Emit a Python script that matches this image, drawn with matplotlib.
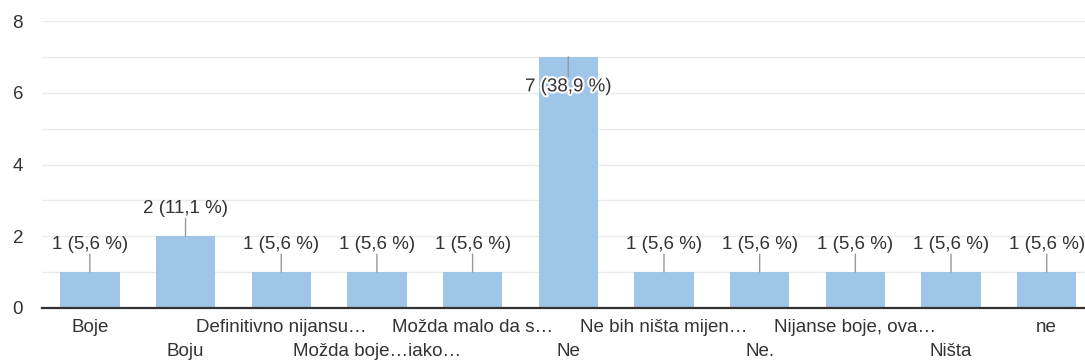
import matplotlib.pyplot as plt
import matplotlib.patheffects as pe

categories = ["Boje", "Boju", "Definitivno nijansu…", "Možda boje…iako…",
              "Možda malo da s…", "Ne", "Ne bih ništa mijen…", "Ne.",
              "Nijanse boje, ova…", "Ništa", "ne"]
counts = [1, 2, 1, 1, 1, 7, 1, 1, 1, 1, 1]
percent_labels = ["5,6", "11,1", "5,6", "5,6", "5,6", "38,9", "5,6", "5,6",
                  "5,6", "5,6", "5,6"]
y_ticks = [0, 2, 4, 6, 8]

plt.rcParams['font.family'] = ['Liberation Sans', 'DejaVu Sans']

W, H = 1085, 363
DPI = 100
PX = 72 / DPI  # points per pixel
FS = 13.5

fig = plt.figure(figsize=(W / DPI, H / DPI), dpi=DPI)
ax = fig.add_axes([42 / W, 55 / H, (W - 42) / W, 287 / H])

bar_color = "#9fc5e8"
text_color = "#333333"
x = list(range(len(categories)))
ax.bar(x, counts, width=0.62, color=bar_color, zorder=2)

ax.set_xlim(-0.5, 10.4)
ax.set_ylim(0, 8)
ax.set_yticks(y_ticks)
ax.set_yticks(range(0, 9), minor=True)
ax.grid(axis='y', which='both', color="#ebebeb", linewidth=1, zorder=0)
ax.tick_params(axis='y', which='both', length=0, pad=19 * PX, labelsize=FS,
               labelcolor=text_color)
ax.tick_params(axis='x', length=0)
ax.set_xticks([])
for s in ['top', 'right', 'left']:
    ax.spines[s].set_visible(False)
ax.spines['bottom'].set_color("#333333")
ax.spines['bottom'].set_linewidth(1.6)
ax.spines['bottom'].set_zorder(3)

# staggered category labels
for i, name in enumerate(categories):
    off = -19 if i % 2 == 0 else -44
    ax.annotate(name, xy=(i, 0), xytext=(0, off * PX), textcoords='offset points',
                xycoords='data', ha='center', va='center', fontsize=FS,
                color=text_color, annotation_clip=False)

# value labels with leader lines
for i, (c, p) in enumerate(zip(counts, percent_labels)):
    label = f"{c} ({p} %)"
    if c >= 6:
        ax.annotate("", xy=(i, c), xytext=(0, -20 * PX), textcoords='offset points',
                    arrowprops=dict(arrowstyle='-', color="#999999", lw=1,
                                    shrinkA=0, shrinkB=0), zorder=4)
        ax.annotate(label, xy=(i, c), xytext=(0, -30 * PX), textcoords='offset points',
                    ha='center', va='center', fontsize=FS, color=text_color,
                    path_effects=[pe.withStroke(linewidth=3, foreground='white')],
                    zorder=5)
    else:
        ax.annotate("", xy=(i, c), xytext=(0, 18 * PX), textcoords='offset points',
                    arrowprops=dict(arrowstyle='-', color="#999999", lw=1,
                                    shrinkA=0, shrinkB=0), zorder=4)
        ax.annotate(label, xy=(i, c), xytext=(0, 28 * PX), textcoords='offset points',
                    ha='center', va='center', fontsize=FS, color=text_color,
                    zorder=5)

fig.savefig("out.png", dpi=DPI)
